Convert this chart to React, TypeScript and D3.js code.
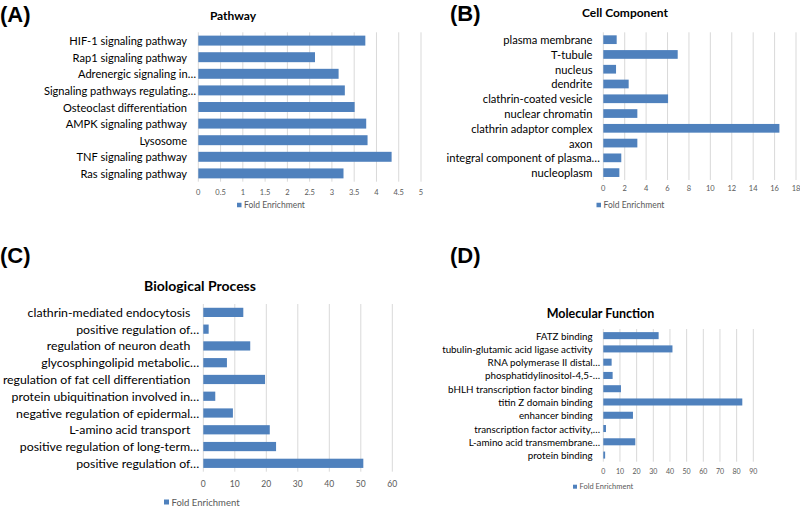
import React from "react";
import * as d3 from "d3";

// ---------- DATA ----------
const pathwayCategories = [
  "HIF-1 signaling pathway",
  "Rap1 signaling pathway",
  "Adrenergic signaling in...",
  "Signaling pathways regulating...",
  "Osteoclast differentiation",
  "AMPK signaling pathway",
  "Lysosome",
  "TNF signaling pathway",
  "Ras signaling pathway",
];
const pathwayValues = [3.75, 2.62, 3.15, 3.29, 3.51, 3.77, 3.8, 4.34, 3.26];
const pathwayTicks = [0, 0.5, 1, 1.5, 2, 2.5, 3, 3.5, 4, 4.5, 5];

const cellCategories = [
  "plasma membrane",
  "T-tubule",
  "nucleus",
  "dendrite",
  "clathrin-coated vesicle",
  "nuclear chromatin",
  "clathrin adaptor complex",
  "axon",
  "integral component of plasma...",
  "nucleoplasm",
];
const cellValues = [1.25, 6.95, 1.19, 2.37, 6.05, 3.18, 16.45, 3.18, 1.68, 1.5];
const cellTicks = [0, 2, 4, 6, 8, 10, 12, 14, 16, 18];

const bioCategories = [
  "clathrin-mediated endocytosis",
  "positive regulation of...",
  "regulation of neuron death",
  "glycosphingolipid metabolic...",
  "regulation of fat cell differentiation",
  "protein ubiquitination involved in...",
  "negative regulation of epidermal...",
  "L-amino acid transport",
  "positive regulation of long-term...",
  "positive regulation of...",
];
const bioValues = [12.7, 1.7, 14.9, 7.5, 19.6, 3.8, 9.4, 21.1, 23.1, 50.8];
const bioTicks = [0, 10, 20, 30, 40, 50, 60];

const molCategories = [
  "FATZ binding",
  "tubulin-glutamic acid ligase activity",
  "RNA polymerase II distal...",
  "phosphatidylinositol-4,5-...",
  "bHLH transcription factor binding",
  "titin Z domain binding",
  "enhancer binding",
  "transcription factor activity,...",
  "L-amino acid transmembrane...",
  "protein binding",
];
const molValues = [33.2, 41.5, 5.0, 5.6, 10.6, 83.4, 17.8, 1.6, 19.2, 1.1];
const molTicks = [0, 10, 20, 30, 40, 50, 60, 70, 80, 90];

const seriesName = "Fold Enrichment";

// ---------- STYLE ----------
const BAR = "#4F81BD";
const GRID = "#D9D9D9";
const TXT = "#595959";
const FONT = "Lato, 'Open Sans', sans-serif";

type PanelCfg = {
  letter: string;
  letterX: number;
  letterY: number;
  title: string;
  titleX: number;
  titleY: number;
  titleSize: number;
  categories: string[];
  values: number[];
  ticks: number[];
  x0: number;
  x1: number;
  y0: number;
  y1: number;
  pad: number;
  labelSize: number;
  labelRight: number;
  truncRight: number;
  tickY: number;
  tickSize: number;
  legX: number;
  legY: number;
  legSize: number;
  legSq: number;
};

function Panel({ c }: { c: PanelCfg }) {
  const x = d3
    .scaleLinear()
    .domain([c.ticks[0], c.ticks[c.ticks.length - 1]])
    .range([c.x0, c.x1]);
  const idx = c.categories.map((_, i) => String(i));
  const y = d3
    .scaleBand<string>()
    .domain(idx)
    .range([c.y0, c.y1])
    .paddingInner(c.pad)
    .paddingOuter(c.pad / 2);
  return (
    <g>
      <text
        x={c.letterX}
        y={c.letterY}
        fontFamily="'Liberation Sans', Arial, sans-serif"
        fontWeight="bold"
        fontSize={22}
        fill="#000"
      >
        {c.letter}
      </text>
      <text
        x={c.titleX}
        y={c.titleY}
        textAnchor="middle"
        dominantBaseline="central"
        fontFamily={FONT}
        fontWeight="bold"
        fontSize={c.titleSize}
        fill="#000"
      >
        {c.title}
      </text>
      {c.ticks.map((t) => (
        <line
          key={"g" + t}
          x1={x(t)}
          x2={x(t)}
          y1={c.y0}
          y2={c.y1}
          stroke={GRID}
          strokeWidth={1}
        />
      ))}
      {c.categories.map((cat, i) => (
        <rect
          key={"b" + i}
          x={x(0)}
          y={y(String(i))!}
          width={x(c.values[i]) - x(0)}
          height={y.bandwidth()}
          fill={BAR}
        />
      ))}
      {c.categories.map((cat, i) => (
        <text
          key={"l" + i}
          x={cat.endsWith("...") ? c.truncRight : c.labelRight}
          y={y(String(i))! + y.bandwidth() / 2}
          textAnchor="end"
          dominantBaseline="central"
          fontFamily={FONT}
          fontSize={c.labelSize}
          fill="#000"
        >
          {cat.endsWith("...") ? cat.slice(0, -3) + "…" : cat}
        </text>
      ))}
      {c.ticks.map((t) => (
        <text
          key={"t" + t}
          x={x(t)}
          y={c.tickY}
          textAnchor="middle"
          dominantBaseline="central"
          fontFamily={FONT}
          fontSize={c.tickSize}
          fill={TXT}
        >
          {String(t)}
        </text>
      ))}
      <rect
        x={c.legX}
        y={c.legY - c.legSq / 2}
        width={c.legSq}
        height={c.legSq}
        fill={BAR}
      />
      <text
        x={c.legX + c.legSq + 2.5}
        y={c.legY}
        dominantBaseline="central"
        fontFamily={FONT}
        fontSize={c.legSize}
        fill={TXT}
      >
        {seriesName}
      </text>
    </g>
  );
}

const panels: PanelCfg[] = [
  {
    letter: "(A)",
    letterX: 0,
    letterY: 22,
    title: "Pathway",
    titleX: 233,
    titleY: 15.5,
    titleSize: 12,
    categories: pathwayCategories,
    values: pathwayValues,
    ticks: pathwayTicks,
    x0: 198.3,
    x1: 421,
    y0: 32.3,
    y1: 181.7,
    pad: 0.4,
    labelSize: 11.1,
    labelRight: 187,
    truncRight: 196,
    tickY: 192,
    tickSize: 7.5,
    legX: 237,
    legY: 205,
    legSq: 4.5,
    legSize: 8.5,
  },
  {
    letter: "(B)",
    letterX: 450,
    letterY: 21,
    title: "Cell Component",
    titleX: 625,
    titleY: 12.5,
    titleSize: 12,
    categories: cellCategories,
    values: cellValues,
    ticks: cellTicks,
    x0: 603.3,
    x1: 796,
    y0: 32.3,
    y1: 180,
    pad: 0.41,
    labelSize: 11.2,
    labelRight: 592.5,
    truncRight: 600,
    tickY: 188,
    tickSize: 7.5,
    legX: 596.5,
    legY: 205,
    legSq: 4.5,
    legSize: 8.5,
  },
  {
    letter: "(C)",
    letterX: 0,
    letterY: 263,
    title: "Biological Process",
    titleX: 200,
    titleY: 285,
    titleSize: 14,
    categories: bioCategories,
    values: bioValues,
    ticks: bioTicks,
    x0: 203.3,
    x1: 392.3,
    y0: 304,
    y1: 471.7,
    pad: 0.45,
    labelSize: 12.3,
    labelRight: 190.3,
    truncRight: 199.3,
    tickY: 484,
    tickSize: 8.5,
    legX: 164,
    legY: 502,
    legSq: 5,
    legSize: 9.5,
  },
  {
    letter: "(D)",
    letterX: 450,
    letterY: 263,
    title: "Molecular Function",
    titleX: 600.5,
    titleY: 313.3,
    titleSize: 12.5,
    categories: molCategories,
    values: molValues,
    ticks: molTicks,
    x0: 603.3,
    x1: 753.3,
    y0: 329,
    y1: 461.7,
    pad: 0.47,
    labelSize: 9.8,
    labelRight: 592.7,
    truncRight: 600,
    tickY: 471,
    tickSize: 7,
    legX: 573,
    legY: 486.7,
    legSq: 4,
    legSize: 7.5,
  },
];

export default function App() {
  return (
    <svg
      width={800}
      height={506}
      style={{ position: "absolute", left: 0, top: 0, background: "#fff" }}
    >
      <rect x={0} y={0} width={800} height={506} fill="#fff" />
      {panels.map((p) => (
        <Panel key={p.letter} c={p} />
      ))}
    </svg>
  );
}
